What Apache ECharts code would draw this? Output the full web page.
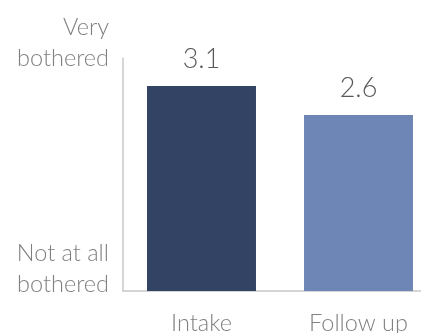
<!DOCTYPE html>
<html>
<head>
<meta charset="utf-8">
<script src="https://cdn.jsdelivr.net/npm/echarts@6/dist/echarts.min.js"></script>
<style>html,body{margin:0;padding:0;background:#fff;}#c{width:421px;height:333px;}</style>
</head>
<body>
<div id="c"></div>
<script>
const categories = ['Intake', 'Follow up'];
const values = [3.1, 2.6];
const barColors = ['#334363', '#6d86b5'];
const yTopLabel = ['Very', 'bothered'];
const yBottomLabel = ['Not at all', 'bothered'];
const yMin = -0.42, yMax = 3.58;

const font = 'Lato';
const labelColor = '#808080';
const axisFont = 23.5;
const chart = echarts.init(document.getElementById('c'), null, {renderer: 'canvas'});
chart.setOption({
  animation: false,
  grid: {left: 123, top: 58, width: 314, height: 233, containLabel: false, outerBoundsMode: 'none'},
  xAxis: {
    type: 'category', data: categories,
    axisLine: {onZero: false, lineStyle: {color: '#c8c8c8', width: 1.5}},
    axisTick: {show: false},
    axisLabel: {color: labelColor, fontFamily: font, fontWeight: 300, fontSize: axisFont, margin: 20}
  },
  yAxis: [{
    type: 'value', min: yMin, max: yMax, interval: yMax - yMin,
    splitLine: {show: false}, axisTick: {show: false},
    axisLine: {show: true, lineStyle: {color: '#c8c8c8', width: 1.5}},
    axisLabel: {
      showMinLabel: false, showMaxLabel: true, margin: 14, verticalAlign: 'middle',
      formatter: v => Math.abs(v - yMax) < 1e-6 ? '{a|' + yTopLabel[0] + '}\n{a|' + yTopLabel[1] + '}\n{a| }' : '',
      rich: {a: {color: labelColor, fontFamily: font, fontWeight: 300, fontSize: axisFont, lineHeight: 31, align: 'right'}}
    }
  }, {
    type: 'value', min: yMin, max: yMax, interval: yMax - yMin, position: 'left',
    splitLine: {show: false}, axisTick: {show: false}, axisLine: {show: false},
    axisLabel: {
      showMinLabel: true, showMaxLabel: false, margin: 14, verticalAlign: 'middle',
      formatter: v => Math.abs(v - yMin) < 1e-6 ? '{a|' + yBottomLabel[0] + '}\n{a|' + yBottomLabel[1] + '}\n{c| }' : '',
      rich: {
        a: {color: labelColor, fontFamily: font, fontWeight: 300, fontSize: axisFont, lineHeight: 31, align: 'right'},
        c: {fontSize: 10, lineHeight: 45}
      }
    }
  }],
  series: [{
    type: 'custom',
    data: values.map((v, i) => [i, v]),
    encode: {x: 0, y: 1},
    renderItem: (params, api) => {
      const idx = api.value(0), val = api.value(1);
      const top = api.coord([idx, val]);
      const bot = api.coord([idx, yMin]);
      const w = api.size([1, 0])[0] * 0.694;
      return {
        type: 'group',
        children: [{
          type: 'rect',
          shape: {x: top[0] - w / 2, y: top[1], width: w, height: bot[1] - top[1]},
          style: {fill: barColors[idx]}
        }, {
          type: 'text',
          style: {text: val.toFixed(1), x: top[0], y: top[1] - 13, align: 'center', verticalAlign: 'bottom',
            fill: '#595959', font: '300 27px Lato'}
        }]
      };
    }
  }]
});
</script>
</body>
</html>
